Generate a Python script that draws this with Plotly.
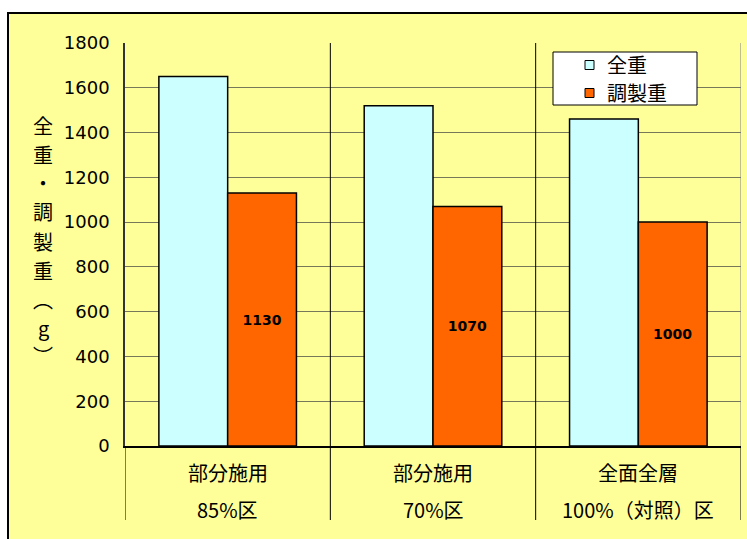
import plotly.graph_objects as go

categories = ["部分施用 85%区", "部分施用 70%区", "全面全層 100%（対照）区"]
label_line1 = ["部分施用", "部分施用", "全面全層"]
label_line2 = ["85%区", "70%区", "100%（対照）区"]
total_weight = [1650, 1520, 1460]
prepared_weight = [1130, 1070, 1000]
series_names = ["全重", "調製重"]
series_colors = ["#CCFFFF", "#FF6600"]
y_ticks = [0, 200, 400, 600, 800, 1000, 1200, 1400, 1600, 1800]
y_title_chars = ["全", "重", "・", "調", "製", "重", "︵", "g", "︶"]

YELLOW = "#FFFF99"
NUMFONT = "DejaVu Sans"
JFONT = "Noto Sans CJK JP"

W, H = 747, 539
L, R, T, B = 125, 6, 43, 93
pw, ph = W - L - R, H - T - B

def px_to_paper_x(px):
    return (px - L) / pw

def px_to_paper_y(py):
    return (H - B - py) / ph

fig = go.Figure()
fig.add_trace(go.Bar(
    x=categories, y=total_weight, name=series_names[0],
    marker=dict(color=series_colors[0], line=dict(color="black", width=1.5)),
))
fig.add_trace(go.Bar(
    x=categories, y=prepared_weight, name=series_names[1],
    marker=dict(color=series_colors[1], line=dict(color="black", width=1.5)),
    text=[str(v) for v in prepared_weight], textposition="inside",
    insidetextanchor="middle",
    textfont=dict(family=NUMFONT, size=14, color="black", weight="bold"),
    constraintext="none",
))

shapes = []
shapes.append(dict(type="rect", xref="paper", yref="paper",
                   x0=px_to_paper_x(8), x1=px_to_paper_x(770),
                   y0=px_to_paper_y(570), y1=px_to_paper_y(13),
                   fillcolor=YELLOW, line=dict(color="black", width=2), layer="below"))
bottom_y = px_to_paper_y(520)
for xb in [0.5, 1.5]:
    shapes.append(dict(type="line", xref="x", yref="paper", x0=xb, x1=xb,
                       y0=bottom_y, y1=1, line=dict(color="black", width=1)))
for xb in [-0.5, 2.5]:
    shapes.append(dict(type="line", xref="x", yref="paper", x0=xb, x1=xb,
                       y0=bottom_y, y1=0, line=dict(color="black", width=1)))
shapes.append(dict(type="line", xref="x", yref="paper", x0=2.5, x1=2.5,
                   y0=0, y1=1, line=dict(color="#808080", width=1)))

# manual legend
shapes.append(dict(type="rect", xref="paper", yref="paper",
                   x0=px_to_paper_x(553), x1=px_to_paper_x(697),
                   y0=px_to_paper_y(105), y1=px_to_paper_y(52),
                   fillcolor="white", line=dict(color="black", width=1), layer="above"))
annotations = []
legend_rows = [65, 93]
for name, col, yc in zip(series_names, series_colors, legend_rows):
    shapes.append(dict(type="rect", xref="paper", yref="paper",
                       x0=px_to_paper_x(585), x1=px_to_paper_x(594),
                       y0=px_to_paper_y(yc + 4.5), y1=px_to_paper_y(yc - 4.5),
                       fillcolor=col, line=dict(color="black", width=1), layer="above"))
    annotations.append(dict(x=px_to_paper_x(605), y=px_to_paper_y(yc), xref="paper", yref="paper",
                            text=name, showarrow=False, font=dict(family=JFONT, size=20, color="black"),
                            xanchor="left", yanchor="middle"))

for i, (a, b) in enumerate(zip(label_line1, label_line2)):
    annotations.append(dict(x=categories[i], y=px_to_paper_y(472), xref="x", yref="paper",
                            text=a, showarrow=False, font=dict(family=JFONT, size=20, color="black"),
                            xanchor="center", yanchor="middle"))
    annotations.append(dict(x=categories[i], y=px_to_paper_y(509), xref="x", yref="paper",
                            text=b, showarrow=False, font=dict(family=JFONT, size=20, color="black"),
                            xanchor="center", yanchor="middle"))
ys = [125, 154, 183, 212, 241, 270, 299, 327, 355]
for ch, yy in zip(y_title_chars, ys):
    annotations.append(dict(x=px_to_paper_x(43), y=px_to_paper_y(yy), xref="paper", yref="paper",
                            text=ch, showarrow=False, font=dict(family=JFONT, size=20, color="black"),
                            xanchor="center", yanchor="middle"))

fig.update_layout(
    width=W, height=H,
    margin=dict(l=L, r=R, t=T, b=B, pad=0),
    paper_bgcolor="white", plot_bgcolor=YELLOW,
    barmode="group", bargap=0.33, bargroupgap=0,
    shapes=shapes, annotations=annotations, showlegend=False,
    font=dict(family=JFONT, size=17, color="black"),
    xaxis=dict(showticklabels=False, showgrid=False, showline=True, linecolor="black",
               linewidth=2, ticks="", range=[-0.5, 2.5]),
    yaxis=dict(range=[0, 1800], tickvals=y_ticks, showgrid=True, gridcolor="#77775a",
               gridwidth=1, showline=True, linecolor="#333333", linewidth=1.5,
               ticks="", zeroline=False, tickfont=dict(family=NUMFONT, size=18, color="black"),
               ticklabelstandoff=10),
)

fig.write_html("out.html")
